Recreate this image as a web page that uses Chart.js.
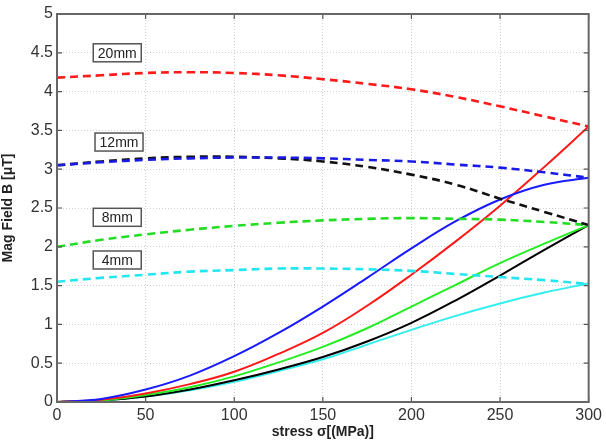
<!DOCTYPE html>
<html>
<head>
<meta charset="utf-8">
<script src="https://cdn.jsdelivr.net/npm/chart.js@4.4.0/dist/chart.umd.min.js"></script>
<style>
  html, body { margin: 0; padding: 0; background: #fff; }
  #wrap { width: 606px; height: 445px; }
</style>
</head>
<body>
<div id="wrap"><canvas id="chart" width="606" height="445"></canvas></div>
<script>
// stress values (MPa)
const stress = [0, 25, 50, 75, 100, 125, 150, 175, 200, 225, 250, 275, 300];

// dashed curves
const red20Dash   = [4.18, 4.21, 4.24, 4.25, 4.24, 4.21, 4.16, 4.10, 4.03, 3.93, 3.81, 3.68, 3.55];
const blue12Dash  = [3.05, 3.09, 3.12, 3.14, 3.15, 3.15, 3.14, 3.12, 3.10, 3.06, 3.02, 2.96, 2.89];
const black12Dash = [3.05, 3.10, 3.14, 3.16, 3.16, 3.14, 3.10, 3.03, 2.93, 2.80, 2.62, 2.45, 2.28];
const green8Dash  = [2.00, 2.09, 2.16, 2.22, 2.27, 2.31, 2.34, 2.36, 2.37, 2.36, 2.35, 2.32, 2.28];
const cyan4Dash   = [1.55, 1.60, 1.64, 1.68, 1.70, 1.72, 1.72, 1.71, 1.69, 1.65, 1.61, 1.57, 1.52];

// solid curves
const blueSolid  = [0, 0.04, 0.16, 0.34, 0.59, 0.89, 1.23, 1.60, 1.98, 2.33, 2.61, 2.80, 2.89];
const redSolid   = [0, 0.03, 0.11, 0.23, 0.39, 0.62, 0.89, 1.24, 1.64, 2.07, 2.53, 3.03, 3.55];
const greenSolid = [0, 0.02, 0.09, 0.19, 0.33, 0.51, 0.71, 0.95, 1.23, 1.51, 1.79, 2.04, 2.28];
const blackSolid = [0, 0.02, 0.07, 0.16, 0.28, 0.42, 0.58, 0.78, 1.02, 1.31, 1.63, 1.96, 2.28];
const cyanSolid  = [0, 0.02, 0.07, 0.15, 0.26, 0.40, 0.55, 0.74, 0.93, 1.11, 1.27, 1.41, 1.53];

// size labels: [text, x, y]
const sizeLabels = [["20mm", 34, 4.5], ["12mm", 35, 3.35], ["8mm", 34, 2.38], ["4mm", 34, 1.83]];

function pts(ys) { return stress.map((x, i) => ({ x: x, y: ys[i] })); }

function line(ys, color, dashed) {
  return {
    data: pts(ys),
    borderColor: color,
    borderWidth: dashed ? 2.6 : 2,
    borderDash: dashed ? [8, 5] : [],
    pointRadius: 0,
    tension: 0.4,
    fill: false
  };
}

const frame = {
  id: "frame",
  afterDatasetsDraw(chart) {
    const { ctx, chartArea: a, scales } = chart;
    ctx.save();
    // inward ticks
    ctx.strokeStyle = "#555";
    ctx.lineWidth = 1.2;
    scales.x.ticks.forEach(t => {
      const px = scales.x.getPixelForValue(t.value);
      ctx.beginPath();
      ctx.moveTo(px, a.bottom); ctx.lineTo(px, a.bottom - 5);
      ctx.moveTo(px, a.top); ctx.lineTo(px, a.top + 5);
      ctx.stroke();
    });
    scales.y.ticks.forEach(t => {
      const py = scales.y.getPixelForValue(t.value);
      ctx.beginPath();
      ctx.moveTo(a.left, py); ctx.lineTo(a.left + 5, py);
      ctx.moveTo(a.right, py); ctx.lineTo(a.right - 5, py);
      ctx.stroke();
    });
    // box
    ctx.strokeStyle = "#666";
    ctx.lineWidth = 2;
    ctx.strokeRect(a.left, a.top, a.right - a.left, a.bottom - a.top);

    // size labels
    ctx.font = "14px 'Liberation Sans', Arial, sans-serif";
    ctx.textAlign = "center";
    ctx.textBaseline = "middle";
    sizeLabels.forEach(([txt, x, y]) => {
      const cx = scales.x.getPixelForValue(x);
      const cy = scales.y.getPixelForValue(y);
      const w = 48, h = 18;
      ctx.fillStyle = "#fff";
      ctx.fillRect(cx - w / 2, cy - h / 2, w, h);
      ctx.strokeStyle = "#555";
      ctx.lineWidth = 1.5;
      ctx.strokeRect(cx - w / 2, cy - h / 2, w, h);
      ctx.fillStyle = "#222";
      ctx.fillText(txt, cx, cy + 1);
    });
    ctx.restore();
  }
};

new Chart(document.getElementById("chart"), {
  type: "line",
  data: {
    datasets: [
      line(red20Dash, "#ff1a1a", true),
      line(blue12Dash, "#1a1ae6", true),
      line(black12Dash, "#111", true),
      line(green8Dash, "#22dd22", true),
      line(cyan4Dash, "#22e6f0", true),
      line(blueSolid, "#1a1aff", false),
      line(redSolid, "#ff1a1a", false),
      line(greenSolid, "#22ee22", false),
      line(blackSolid, "#000", false),
      line(cyanSolid, "#33eeee", false)
    ]
  },
  plugins: [frame],
  options: {
    responsive: false,
    animation: false,
    layout: { padding: { left: 0, right: 16, top: 14, bottom: 4 } },
    plugins: { legend: { display: false }, tooltip: { enabled: false } },
    scales: {
      x: {
        type: "linear",
        min: 0, max: 300,
        ticks: { stepSize: 50, color: "#333", padding: 4, font: { size: 16, family: "'Liberation Sans', Arial" } },
        grid: { color: "#cfcfcf", lineWidth: 1, drawTicks: false },
        border: { display: false, dash: [1, 2] },
        title: { display: true, text: "stress \u03c3[(MPa)]", color: "#222", padding: { top: 0, bottom: 0 },
                 font: { size: 14, weight: "bold", family: "'Liberation Sans', Arial" } },
        afterFit(s) { s.height = 39; }
      },
      y: {
        min: 0, max: 5,
        ticks: { stepSize: 0.5, color: "#333", padding: 4, callback: v => String(v),
                 font: { size: 16, family: "'Liberation Sans', Arial" } },
        grid: { color: "#cfcfcf", lineWidth: 1, drawTicks: false },
        border: { display: false, dash: [1, 2] },
        title: { display: true, text: "Mag Field B [\u03bcT]", color: "#222", padding: { top: 0, bottom: 2 },
                 font: { size: 14, weight: "bold", family: "'Liberation Sans', Arial" } },
        afterFit(s) { s.width = 57; }
      }
    }
  }
});
</script>
</body>
</html>
